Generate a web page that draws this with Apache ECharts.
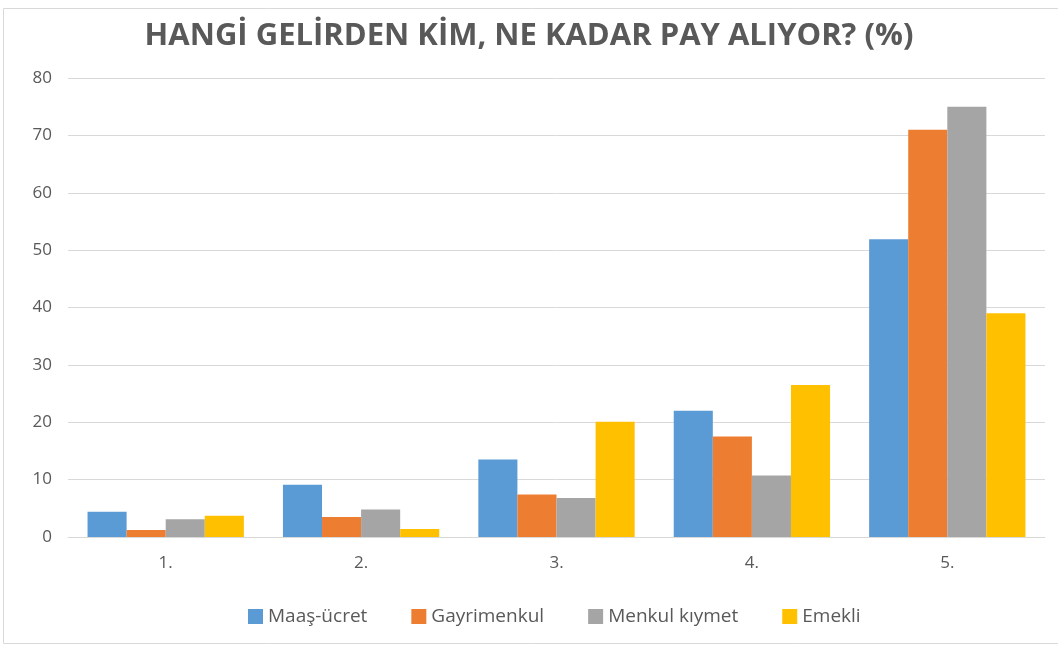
<!DOCTYPE html>
<html><head><meta charset="utf-8">
<script src="https://cdn.jsdelivr.net/npm/echarts@6/dist/echarts.min.js"></script>
<style>html,body{margin:0;padding:0;background:#fff}#c{width:1058px;height:647px}</style>
</head><body><div id="c"></div>
<script>
const categories = ['1.', '2.', '3.', '4.', '5.'];
const maasUcret = [4.4, 9.1, 13.5, 22.0, 51.9];
const gayrimenkul = [1.2, 3.5, 7.4, 17.5, 71.0];
const menkulKiymet = [3.1, 4.8, 6.8, 10.7, 75.0];
const emekli = [3.7, 1.4, 20.1, 26.5, 39.0];
const seriesNames = ['Maaş-ücret', 'Gayrimenkul', 'Menkul kıymet', 'Emekli'];
const colors = ['#5B9BD5', '#ED7D31', '#A5A5A5', '#FFC000'];
const data = [maasUcret, gayrimenkul, menkulKiymet, emekli];

const chart = echarts.init(document.getElementById('c'));
chart.setOption({
  animation: false,
  color: colors,
  textStyle: {fontFamily: 'Open Sans'},
  title: {
    text: 'HANGİ GELİRDEN KİM, NE KADAR PAY ALIYOR? (%)',
    left: 'center', top: 16,
    textStyle: {fontFamily: 'Open Sans', fontWeight: 'bold', fontSize: 31, color: '#595959'}
  },
  graphic: [{type: 'rect', shape: {x: 3.5, y: 8.5, width: 1060, height: 635}, style: {fill: 'none', stroke: '#D9D9D9', lineWidth: 1}, silent: true}],
  legend: {
    bottom: 16, left: 243, itemWidth: 15, itemHeight: 15, itemGap: 44,
    icon: 'rect',
    textStyle: {fontSize: 19, color: '#595959', fontFamily: 'Open Sans'},
    data: seriesNames
  },
  grid: {left: 68, right: 13, top: 78, bottom: 110, containLabel: false},
  xAxis: {
    type: 'category', data: categories,
    axisLine: {lineStyle: {color: '#D9D9D9', width: 1}},
    axisTick: {show: false},
    axisLabel: {fontSize: 17, color: '#595959', margin: 18}
  },
  yAxis: {
    type: 'value', min: 0, max: 80, interval: 10,
    axisLine: {show: false}, axisTick: {show: false},
    splitLine: {lineStyle: {color: '#D9D9D9', width: 1}},
    axisLabel: {fontSize: 17, color: '#595959', margin: 16}
  },
  series: seriesNames.map((n, i) => ({
    name: n, type: 'bar', data: data[i],
    barGap: '0%', barCategoryGap: '20%'
  }))
});
</script></body></html>
